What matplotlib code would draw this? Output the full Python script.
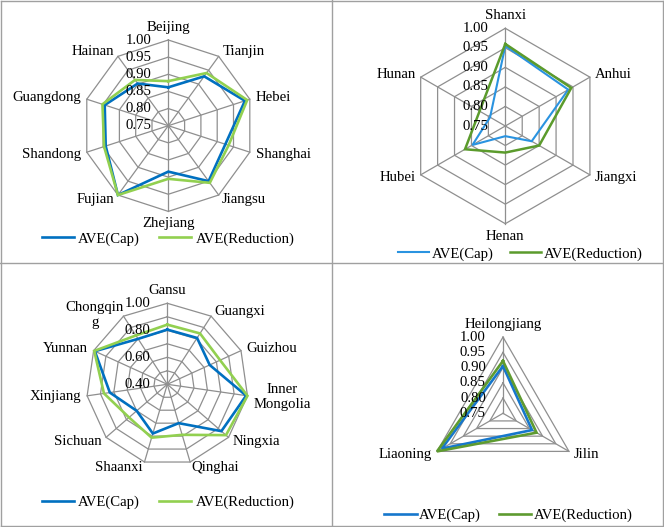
import numpy as np
import matplotlib
matplotlib.use('Agg')
import matplotlib.pyplot as plt
from matplotlib.lines import Line2D

FS = 10.6
plt.rcParams['font.family'] = ['Liberation Serif', 'DejaVu Serif']
plt.rcParams['font.size'] = FS

# ---------------- data ----------------
series_names = ['AVE(Cap)', 'AVE(Reduction)']

p1_categories = ['Beijing', 'Tianjin', 'Hebei', 'Shanghai', 'Jiangsu', 'Zhejiang',
                 'Fujian', 'Shandong', 'Guangdong', 'Hainan']
p1_cap = [0.862, 0.928, 0.985, 0.925, 0.950, 0.884, 1.000, 0.942, 0.945, 0.902]
p1_red = [0.880, 0.940, 0.992, 0.935, 0.956, 0.905, 1.000, 0.947, 0.952, 0.915]
p1_ticks = [0.75, 0.80, 0.85, 0.90, 0.95, 1.00]

p2_categories = ['Shanxi', 'Anhui', 'Jiangxi', 'Henan', 'Hubei', 'Hunan']
p2_cap = [0.955, 0.936, 0.828, 0.776, 0.847, 0.795]
p2_red = [0.960, 0.945, 0.850, 0.818, 0.869, 0.826]
p2_ticks = [0.75, 0.80, 0.85, 0.90, 0.95, 1.00]

p3_categories = ['Gansu', 'Guangxi', 'Guizhou', 'Inner\nMongolia', 'Ningxia', 'Qinghai',
                 'Shaanxi', 'Sichuan', 'Xinjiang', 'Yunnan', 'Chongqin\ng']
p3_cap = [0.805, 0.808, 0.745, 0.990, 0.930, 0.700, 0.780, 0.700, 0.830, 0.990, 0.800]
p3_red = [0.842, 0.848, 0.830, 1.000, 0.975, 0.790, 0.812, 0.775, 0.874, 0.995, 0.830]
p3_rings = [0.50, 0.60, 0.70, 0.80, 0.90, 1.00]
p3_ticks = [0.40, 0.60, 0.80, 1.00]

p4_categories = ['Heilongjiang', 'Jilin', 'Liaoning']
p4_cap = [0.905, 0.860, 0.982]
p4_red = [0.922, 0.877, 1.000]
p4_ticks = [0.75, 0.80, 0.85, 0.90, 0.95, 1.00]

# ---------------- figure ----------------
W, H = 664, 527
fig = plt.figure(figsize=(W / 100, H / 100), dpi=100)
GRID = '#8F8F8F'


def add_radar(cx, cy, R, categories, cap, red, rmin, rings, ticks, colors, lws,
              leg_xy, leg_kw, label_tweak=None):
    ax = fig.add_axes([(cx - R) / W, 1 - (cy + R) / H, 2 * R / W, 2 * R / H],
                      projection='polar')
    ax.set_theta_offset(np.pi / 2)
    ax.set_theta_direction(-1)
    ax.set_ylim(rmin, 1.0)
    ax.grid(False)
    ax.set_xticks([])
    ax.set_yticks([])
    ax.spines['polar'].set_visible(False)
    ax.patch.set_alpha(0)
    n = len(categories)
    theta = np.arange(n) * 2 * np.pi / n
    tc = np.append(theta, theta[0])
    for v in rings:
        ax.plot(tc, [v] * (n + 1), color=GRID, lw=0.9, clip_on=False, zorder=1)
    for t in theta:
        ax.plot([t, t], [rmin, 1.0], color=GRID, lw=0.9, clip_on=False, zorder=1)
    h1, = ax.plot(tc, np.append(cap, cap[0]), color=colors[0], lw=lws[0],
                  clip_on=False, zorder=3, solid_joinstyle='miter')
    h2, = ax.plot(tc, np.append(red, red[0]), color=colors[1], lw=lws[1],
                  clip_on=False, zorder=4, solid_joinstyle='miter')
    # category labels
    for i, (t, lab) in enumerate(zip(theta, categories)):
        s, c = np.sin(t), np.cos(t)
        if abs(s) < 0.1:
            ha = 'center'
            dx, dy = 0, 12.5 * np.sign(c)
        else:
            ha = 'left' if s > 0 else 'right'
            dx, dy = 6 * s, 6 * c
        if label_tweak and i in label_tweak:
            dx += label_tweak[i][0]
            dy += label_tweak[i][1]
        ax.annotate(lab, xy=(t, 1.0), xytext=(dx, dy), textcoords='offset pixels',
                    ha=ha, va='center', multialignment='center', fontsize=FS,
                    zorder=5, annotation_clip=False)
    # radial tick labels
    for v in ticks:
        ax.annotate(f'{v:.2f}', xy=(0, v), xytext=(-17, 0), textcoords='offset pixels',
                    ha='right', va='center', fontsize=FS, zorder=5,
                    annotation_clip=False)
    ax.legend([h1, h2], series_names, loc='center',
              bbox_to_anchor=(leg_xy[0] / W, 1 - leg_xy[1] / H),
              bbox_transform=fig.transFigure, ncol=2, frameon=False,
              borderpad=0, borderaxespad=0, fontsize=FS, **leg_kw)
    return ax


add_radar(168.3, 125.7, 85.7, p1_categories, p1_cap, p1_red, 0.75,
          p1_ticks[1:], p1_ticks, ('#0070C0', '#92D050'), (1.9, 1.9),
          (168, 239), dict(handlelength=2.2, handletextpad=0.27, columnspacing=1.3))

add_radar(505.3, 126.0, 97.7, p2_categories, p2_cap, p2_red, 0.75,
          p2_ticks[1:], p2_ticks, ('#2A93E0', '#5B9B2C'), (1.5, 1.8),
          (520.5, 254), dict(handlelength=2.1, handletextpad=0.17, columnspacing=1.15))

add_radar(167.3, 384.3, 81.0, p3_categories, p3_cap, p3_red, 0.40,
          p3_rings, p3_ticks, ('#0070C0', '#92D050'), (1.9, 1.9),
          (168, 502.5), dict(handlelength=2.2, handletextpad=0.27, columnspacing=1.3),
          label_tweak={10: (3.5, -4)})

add_radar(503.0, 413.3, 76.2, p4_categories, p4_cap, p4_red, 0.75,
          p4_ticks[1:], p4_ticks, ('#1677CC', '#5E9B30'), (1.9, 1.9),
          (508.5, 515.3), dict(handlelength=2.2, handletextpad=0.17, columnspacing=1.2))

# panel borders
BC = '#A0A0A0'
xm, ym = 331.5 / W, 1 - 262.5 / H
for (xs, ys) in [([0.001, 0.999], [0.999, 0.999]), ([0.001, 0.999], [0.001, 0.001]),
                 ([0.001, 0.001], [0.001, 0.999]), ([0.999, 0.999], [0.001, 0.999]),
                 ([xm, xm], [0, 1]), ([0, 1], [ym, ym])]:
    fig.add_artist(Line2D(xs, ys, transform=fig.transFigure, color=BC, lw=1.0))

fig.savefig('out.png', dpi=100)
